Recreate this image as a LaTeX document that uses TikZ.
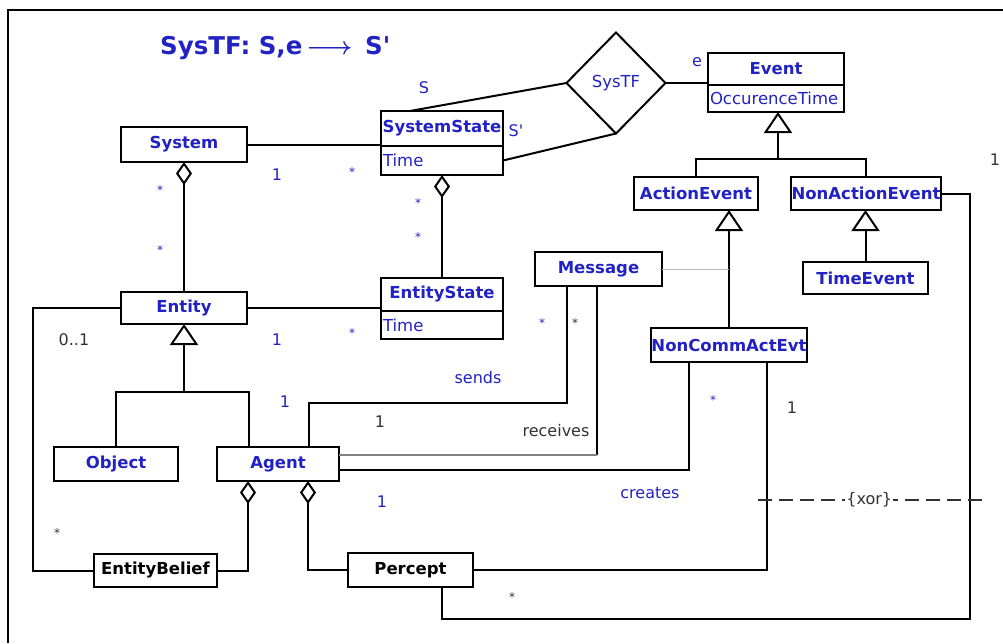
\documentclass[tikz,border=0pt]{standalone}
\usepackage{fontspec}
\setmainfont{DejaVu Sans}
\definecolor{umlblue}{RGB}{34,34,196}
\definecolor{notegray}{RGB}{50,50,50}
\definecolor{linkgray}{RGB}{185,185,185}
\usetikzlibrary{arrows.meta,shapes.geometric,calc}

\tikzset{
  classbox/.style={draw, line width=2pt, inner sep=0pt, outer sep=0pt, minimum height=33pt,
    font=\fontsize{16.5}{19}\selectfont\bfseries, text=umlblue},
  attrbox/.style={draw, line width=2pt, inner sep=0pt, outer sep=0pt, inner xsep=2pt, align=left,
    font=\fontsize{16.5}{19}\selectfont, text=umlblue},
  lbl/.style={font=\fontsize{16}{18}\selectfont, text=umlblue, inner sep=0pt},
  note/.style={lbl, text=notegray},
  star/.style={font=\fontsize{12}{14}\selectfont, text=umlblue, inner sep=0pt},
  graystar/.style={star, text=notegray},
  assoc/.style={line width=2pt},
  aggr/.style={assoc, {Diamond[open, length=23pt, width=16pt, line width=2pt]}-},
  gen/.style={assoc, -{Triangle[open, length=21pt, width=28pt, line width=2pt]}}
}

\begin{document}
\begin{tikzpicture}[x=1pt, y=-1pt]
  \useasboundingbox (0,0) rectangle (1003,643);

  % frame
  \coordinate (frTL) at (8,10);
  \coordinate (frTR) at (1003,10);
  \coordinate (frBL) at (8,643);
  \draw[line width=2.4pt] (frTR) -- (frTL) -- (frBL);

  \node[anchor=west, inner sep=0pt, text=umlblue, font=\fontsize{24.5}{28}\selectfont\bfseries] (title) at (160,48)
    {SysTF: S,e\,{\boldmath$\longrightarrow$}\, S\textquotesingle};

  % classes
  \node[classbox, minimum width=126pt, minimum height=35pt] (sys) at (184,144.5) {System};
  \node[classbox, minimum width=122pt, minimum height=35pt] (ssh) at (442,128.5) {SystemState};
  \node[attrbox, text width=118pt, minimum height=29pt, anchor=north] (ssa) at (ssh.south) {Time};
  \node[classbox, minimum width=122pt] (esh) at (442,294.5) {EntityState};
  \node[attrbox, text width=118pt, minimum height=28pt, anchor=north] (esa) at (esh.south) {Time};
  \node[classbox, minimum width=136pt, minimum height=32pt] (evh) at (776,69) {Event};
  \node[attrbox, text width=132pt, minimum height=27pt, anchor=north] (eva) at (evh.south) {OccurenceTime};
  \node[classbox, minimum width=124pt] (ae) at (696,193.5) {ActionEvent};
  \node[classbox, minimum width=150pt] (nae) at (866,193.5) {NonActionEvent};
  \node[classbox, minimum width=125pt, minimum height=32pt] (te) at (865.5,278) {TimeEvent};
  \node[classbox, minimum width=127pt, minimum height=34pt] (msg) at (598.5,269) {Message};
  \node[classbox, minimum width=156pt, minimum height=34pt] (nca) at (729,345) {NonCommActEvt};
  \node[classbox, minimum width=126pt, minimum height=32pt] (ent) at (184,308) {Entity};
  \node[classbox, minimum width=124pt, minimum height=34pt] (obj) at (116,464) {Object};
  \node[classbox, minimum width=122pt, minimum height=34pt] (agt) at (278,464) {Agent};
  \node[classbox, minimum width=123pt, text=black] (eb) at (155.5,570.5) {EntityBelief};
  \node[classbox, minimum width=125pt, minimum height=34pt, text=black] (pc) at (410.5,570) {Percept};

  \node[draw, diamond, line width=2pt, outer sep=0pt, minimum width=99pt, minimum height=101pt, inner sep=0pt,
    text=umlblue, font=\fontsize{16.5}{19}\selectfont] (tf) at (616,83) {SysTF};

  % junctions
  \coordinate (entj) at (184,392);
  \coordinate (evj) at (778,159);
  \coordinate (rcv) at (597,455);
  \coordinate (nacorner) at (970,619);
  \coordinate (xorL) at (758,500);
  \coordinate (xorR) at (985,500);

  % connectors
  \draw[assoc] (sys.east) -- (sys.east -| ssh.west);
  \draw[assoc] ([xshift=-32pt]ssh.north) -- (tf.west);
  \draw[assoc] (ssa.east) -- (tf.south);
  \draw[assoc] (tf.east) -- (tf.east -| evh.west);
  \draw[aggr] (sys.south) -- (ent.north);
  \draw[aggr] (ssa.south) -- (esh.north);
  \draw[assoc] (ent.east) -- (ent.east -| esh.west);
  \draw[gen] (entj) -- (ent.south);
  \draw[assoc] (obj.north) |- (entj) -| ([xshift=-29pt]agt.north);
  \draw[aggr] ([xshift=-30pt]agt.south) |- (eb.east);
  \draw[aggr] ([xshift=30pt]agt.south) |- (pc.west);
  \draw[assoc] (ent.west) -- ++(-88,0) |- (eb.west);
  \draw[gen] (evj) -- (evj |- eva.south);
  \draw[assoc] (ae.north) |- (evj) -| (nae.north);
  \draw[gen] (te.north) -- (te.north |- nae.south);
  \draw[gen] (nca.north) -- (nca.north |- ae.south);
  \draw[line width=1pt, linkgray] (msg.east) -- (msg.east -| nca.north);
  \draw[assoc] ([xshift=-31.5pt]msg.south) -- ++(0,117) -| ([xshift=31pt]agt.north);
  \draw[assoc] (msg.south -| rcv) -- (rcv);
  \draw[line width=1.1pt, gray] (rcv) -- (rcv -| agt.east);
  \draw[assoc] ([yshift=-6pt]agt.east) -| ([xshift=-40pt]nca.south);
  \draw[assoc] (pc.east) -| ([xshift=38pt]nca.south);
  \draw[assoc] ([xshift=31.5pt]pc.south) |- (nacorner) |- (nae.east);
  \draw[dash pattern=on 14pt off 7pt, line width=1.4pt, notegray] (xorL) -- (xorR)
    node[pos=0.49, fill=white, inner sep=1pt, text=notegray, font=\fontsize{16}{18}\selectfont] (xor) {\{xor\}};

  % roles and multiplicities
  \node[lbl] (roleS) at (424,88) {S};
  \node[lbl] (roleSp) at (516,131) {S\textquotesingle};
  \node[lbl] (roleE) at (697,62) {e};
  \node[lbl] (m1) at (277,175) {1};
  \node[star] (m2) at (352,172) {*};
  \node[star] (m3) at (160,190) {*};
  \node[star] (m4) at (160,250) {*};
  \node[star] (m5) at (418,203) {*};
  \node[star] (m6) at (418,237) {*};
  \node[lbl] (m7) at (277,340) {1};
  \node[star] (m8) at (352,333) {*};
  \node[note] (m9) at (74,340) {0..1};
  \node[lbl] (m10) at (285,402) {1};
  \node[note] (m11) at (380,422) {1};
  \node[lbl] (sends) at (478,378) {sends};
  \node[note] (receives) at (556,431) {receives};
  \node[star] (m12) at (542,323) {*};
  \node[graystar] (m13) at (575,323) {*};
  \node[star] (m14) at (713,400) {*};
  \node[note] (m15) at (792,408) {1};
  \node[lbl] (creates) at (650,493) {creates};
  \node[lbl] (m16) at (382,502) {1};
  \node[graystar] (m17) at (57,533) {*};
  \node[graystar] (m18) at (512,597) {*};
  \node[note] (m19) at (995,160) {1};
\end{tikzpicture}
\end{document}
